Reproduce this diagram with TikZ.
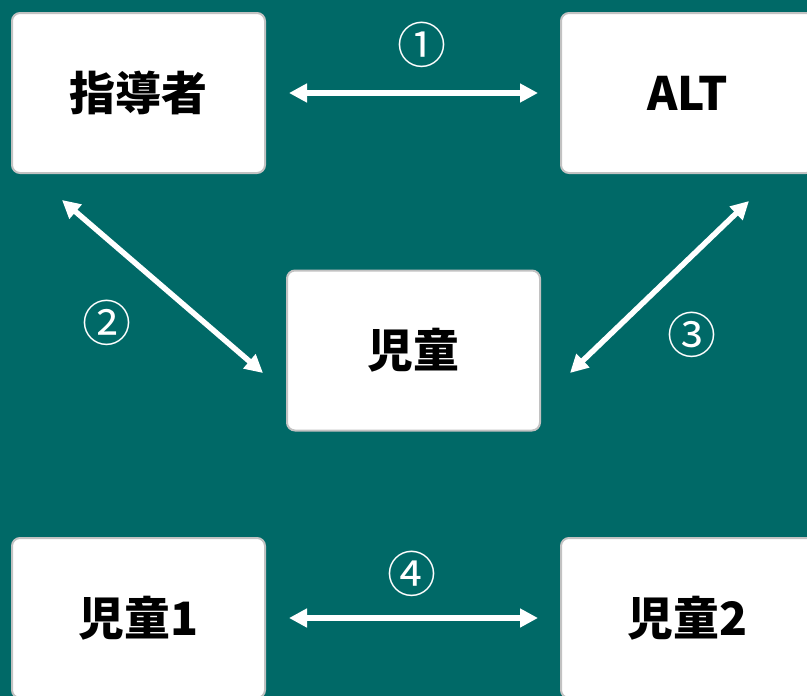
\documentclass[tikz,border=0pt]{standalone}
\usepackage{fontspec}
\newfontfamily\jp{Noto Sans CJK JP}
\usetikzlibrary{arrows.meta,calc}
\definecolor{bgteal}{HTML}{006967}
\definecolor{boxborder}{HTML}{C2C2C2}
\tikzset{
  card/.style={draw=boxborder, line width=2pt, fill=white, rounded corners=8pt,
    minimum width=253pt, minimum height=160pt, inner sep=0pt,
    font=\jp\bfseries\fontsize{46}{50}\selectfont, text=black},
  link/.style={white, line width=5.5pt, {Triangle[length=18pt,width=18pt]}-{Triangle[length=18pt,width=18pt]}},
  num/.style={text=white, inner sep=0pt, font=\jp\fontsize{49}{51}\selectfont}
}
\begin{document}
\begin{tikzpicture}[x=1pt,y=-1pt]
\clip (0,0) rectangle (807,696);
\fill[bgteal] (0,0) rectangle (807,696);
\node[card] (lead) at (138.5,93) {指導者};
\node[card] (alt) at (687.5,93) {ALT};
\node[card] (child) at (413.5,350.5) {児童};
\node[card] (c1) at (138.5,618) {児童1};
\node[card] (c2) at (687.5,618) {児童2};
\draw[link] ([xshift=23pt]lead.east) -- ([xshift=-22pt]alt.west);
\draw[link] ([shift={(51,26)}]lead.south west) -- ([shift={(-23,22.5)}]child.west);
\draw[link] ([shift={(189,27)}]alt.south west) -- ([shift={(29,22.5)}]child.east);
\draw[link] ([xshift=23pt]c1.east) -- ([xshift=-22pt]c2.west);
\node[num] (n1) at (422,45) {①};
\node[num] (n2) at (107,323) {②};
\node[num] (n3) at (692,335) {③};
\node[num] (n4) at (412,574) {④};
\end{tikzpicture}
\end{document}
